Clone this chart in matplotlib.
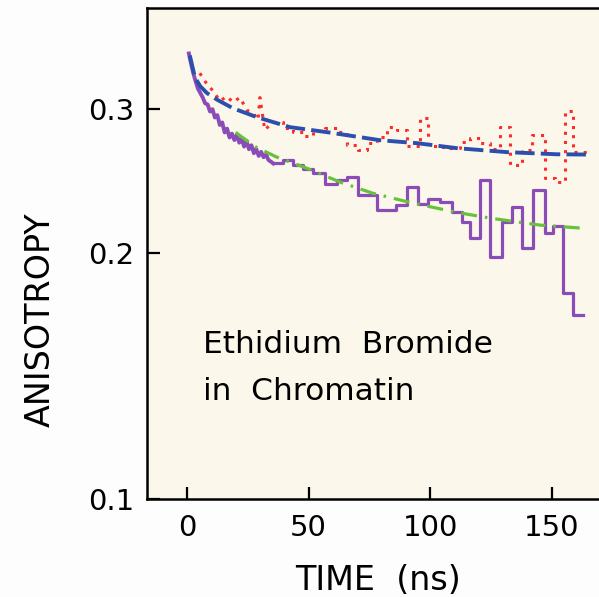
import matplotlib.pyplot as plt

# purple data, fast early part (ns, anisotropy)
purple_early_t = [0.8, 1.5, 2.5, 3.5, 4.5, 5.5, 6.5, 7.5, 8.5, 9.5, 10.5, 11.5, 12.5, 13.5,
                  14.5, 15.5, 16.5, 17.5, 18.5, 19.5, 20.5, 21.5, 22.5, 23.5, 24.5, 25.5,
                  26.5, 27.5, 28.5, 29.5, 30.5, 31.5, 32.5, 33.5, 35.5]
purple_early_y = [0.351, 0.343, 0.333, 0.325, 0.318, 0.314, 0.310, 0.305, 0.304, 0.298,
                  0.300, 0.293, 0.295, 0.287, 0.289, 0.281, 0.284, 0.277, 0.280, 0.275,
                  0.279, 0.273, 0.276, 0.270, 0.274, 0.268, 0.271, 0.265, 0.268, 0.263,
                  0.266, 0.262, 0.264, 0.260, 0.2575]

# purple data, binned part (bin start, value)
purple_bins = [35.5, 39.6, 43.7, 47.8, 51.9, 56.7, 61.5, 65.6, 70.4, 77.9, 86.1, 90.3,
               95.0, 99.1, 103.9, 108.8, 112.9, 116.3, 120.4, 124.5, 129.3, 133.4, 137.5,
               142.3, 147.1, 150.5, 154.6, 158.7, 162.8]
purple_vals = [0.2575, 0.2598, 0.2563, 0.2538, 0.2503, 0.2433, 0.2456, 0.2479, 0.2354,
               0.2257, 0.2289, 0.2410, 0.2299, 0.2332, 0.2310, 0.2247, 0.2184, 0.2084,
               0.2456, 0.1978, 0.2184, 0.2278, 0.2026, 0.2387, 0.2115, 0.2157, 0.1785,
               0.1680, 0.1680]

# red data
red_early_t = [5.3, 8.2, 10.7, 13.6, 16.4, 18.9, 21.8, 24.7, 27.1, 29.2, 30.0, 32.0, 35.3]
red_early_y = [0.332, 0.322, 0.316, 0.307, 0.311, 0.306, 0.310, 0.299, 0.297, 0.291,
               0.310, 0.283, 0.2892]
red_bins = [35.3, 39.4, 43.5, 47.7, 51.8, 56.7, 61.6, 65.7, 70.3, 74.0, 78.1, 82.2, 86.3,
            90.4, 95.7, 99.0, 103.9, 108.1, 112.2, 116.3, 120.4, 124.5, 128.6, 132.7,
            137.6, 141.7, 147.1, 151.2, 155.3, 158.6, 165.6]
red_vals = [0.2892, 0.2844, 0.2812, 0.2780, 0.2820, 0.2844, 0.2812, 0.2711, 0.2673,
            0.2726, 0.2772, 0.2852, 0.2827, 0.2703, 0.2925, 0.2703, 0.2697, 0.2690,
            0.2734, 0.2764, 0.2726, 0.2680, 0.2852, 0.2562, 0.2673, 0.2788, 0.2470,
            0.2443, 0.2983, 0.2658, 0.2658]

# fits
blue_t = [1.2, 3.3, 5.5, 8.2, 12.5, 18.9, 28.8, 42.3, 57.5, 79.3, 94.5, 110.9, 131.5, 152.0, 164.3]
blue_y = [0.349, 0.328, 0.320, 0.314, 0.308, 0.3008, 0.2933, 0.2852, 0.2812, 0.2749,
          0.2726, 0.2688, 0.2658, 0.2642, 0.2640]
green_t = [20.0, 28.0, 37.0, 49.3, 62.9, 76.4, 92.9, 110.9, 124.5, 145.0, 162.7]
green_y = [0.281, 0.270, 0.2620, 0.2540, 0.2443, 0.2367, 0.2302, 0.2243, 0.2207, 0.2164, 0.2145]

fig = plt.figure(figsize=(5.99, 5.97), dpi=100, facecolor='#fdfdfd')
ax = fig.add_axes([147 / 599, 1 - 499 / 597, 452 / 599, 491 / 597])
ax.set_facecolor('#fbf7ea')

purple = '#8a4db8'
ax.plot(purple_early_t, purple_early_y, color=purple, lw=2.8)
ax.plot(purple_bins, purple_vals, color=purple, lw=2.3, drawstyle='steps-post')
ax.plot(red_early_t, red_early_y, color='#ff2a2a', lw=2.2, ls=(0, (1, 2)))
ax.plot(red_bins, red_vals, color='#ff2a2a', lw=2.2, ls=(0, (1, 2)), drawstyle='steps-post')
ax.plot(blue_t, blue_y, color='#2c4fae', lw=2.8, ls=(0, (5, 1.6)))
ax.plot(green_t, green_y, color='#66c23a', lw=2.3, ls=(0, (5, 2.5, 0.8, 2.5)))

ax.set_yscale('log')
ax.set_xlim(-16.4, 169.3)
ax.set_ylim(0.1, 0.399)
ax.set_xticks([0, 50, 100, 150])
ax.set_yticks([0.1, 0.2, 0.3])
ax.set_yticklabels(['0.1', '0.2', '0.3'])
ax.yaxis.set_minor_locator(plt.NullLocator())
ax.tick_params(direction='in', length=9, width=1.6, labelsize=21)
ax.tick_params(axis='x', pad=11)
ax.tick_params(axis='y', pad=9)

for side in ['left', 'bottom', 'top']:
    ax.spines[side].set_linewidth(1.8)
ax.spines['right'].set_visible(False)

ax.set_xlabel('TIME  (ns)', fontsize=24)
ax.set_ylabel('ANISOTROPY', fontsize=24)
ax.xaxis.set_label_coords(0.511, -0.165)
ax.xaxis.label.set_va('center')
ax.yaxis.set_label_coords(-0.237, 0.365)
ax.yaxis.label.set_va('center')

ax.text(6.5, 0.151, 'Ethidium  Bromide', fontsize=22.5, va='baseline')
ax.text(6.5, 0.132, 'in  Chromatin', fontsize=22.5, va='baseline')

fig.savefig('out.png', dpi=100, facecolor=fig.get_facecolor())
